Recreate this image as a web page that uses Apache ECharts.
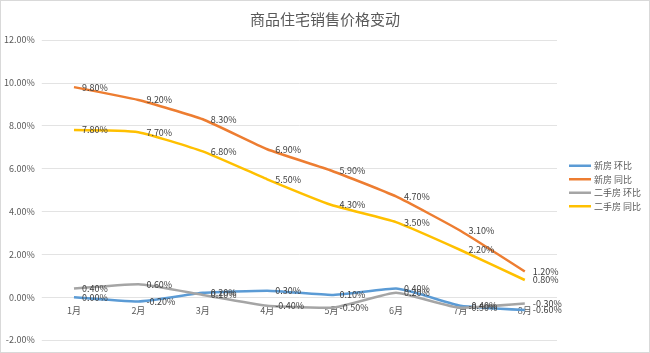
<!DOCTYPE html>
<html><head><meta charset="utf-8">
<script src="https://cdn.jsdelivr.net/npm/echarts@6/dist/echarts.min.js"></script>
<style>html,body{margin:0;padding:0;background:#fff}#c{width:648px;height:351px;border:1px solid #d9d9d9;}</style>
</head><body><div id="c"></div>
<script>
const categories = ['1月','2月','3月','4月','5月','6月','7月','8月'];
const newMoM  = [0.0, -0.2, 0.2, 0.3, 0.1, 0.4, -0.4, -0.6];
const newYoY  = [9.8, 9.2, 8.3, 6.9, 5.9, 4.7, 3.1, 1.2];
const usedMoM = [0.4, 0.6, 0.1, -0.4, -0.5, 0.2, -0.5, -0.3];
const usedYoY = [7.8, 7.7, 6.8, 5.5, 4.3, 3.5, 2.2, 0.8];
const seriesNames = ['新房 环比','新房 同比','二手房 环比','二手房 同比'];
const colors = ['#5b9bd5','#ed7d31','#a5a5a5','#ffc000'];
const yTicks = {min:-2, max:12, interval:2};

const chart = echarts.init(document.getElementById('c'));
const font = '"Noto Sans CJK SC","Noto Sans",sans-serif';
const gridTop = 39, gridBottom = 12, H = 351;
const zeroFromBottom = (H - gridTop - gridBottom) * (0 - yTicks.min) / (yTicks.max - yTicks.min);
function mk(name, data, color){
  return {name, type:'line', data, smooth:0.15, symbol:'circle', symbolSize:0.01, showSymbol:true,
    lineStyle:{color, width:2.5}, itemStyle:{color},
    label:{show:true, position:'right', distance:8, color:'#404040', fontSize:9, fontFamily:font,
      formatter:p=>p.value.toFixed(2)+'%'}};
}
chart.setOption({
  animation:false,
  backgroundColor:'#fff',
  color:colors,
  title:{text:'商品住宅销售价格变动', left:'center', top:6,
    textStyle:{fontSize:15, fontWeight:'normal', color:'#595959', fontFamily:font}},
  legend:{orient:'vertical', left:568, top:158, padding:0, icon:'rect', itemWidth:22, itemHeight:2.5, itemGap:0,
    textStyle:{fontSize:9, lineHeight:13.5, color:'#595959', fontFamily:font, padding:[0,0,0,-2]}},
  grid:{left:40, right:92, top:gridTop, bottom:gridBottom, containLabel:false},
  xAxis:{type:'category', data:categories, boundaryGap:true, offset:-zeroFromBottom,
    axisLine:{show:false}, axisTick:{show:false},
    axisLabel:{color:'#595959', fontSize:9, fontFamily:font, margin:9}},
  yAxis:{type:'value', min:yTicks.min, max:yTicks.max, interval:yTicks.interval,
    axisLine:{show:false}, axisTick:{show:false},
    splitLine:{lineStyle:{color:'#e3e3e3'}},
    axisLabel:{color:'#595959', fontSize:9, fontFamily:font, margin:7, formatter:v=>v.toFixed(2)+'%'}},
  series:[mk(seriesNames[0],newMoM,colors[0]), mk(seriesNames[1],newYoY,colors[1]),
          mk(seriesNames[2],usedMoM,colors[2]), mk(seriesNames[3],usedYoY,colors[3])]
});
</script></body></html>
